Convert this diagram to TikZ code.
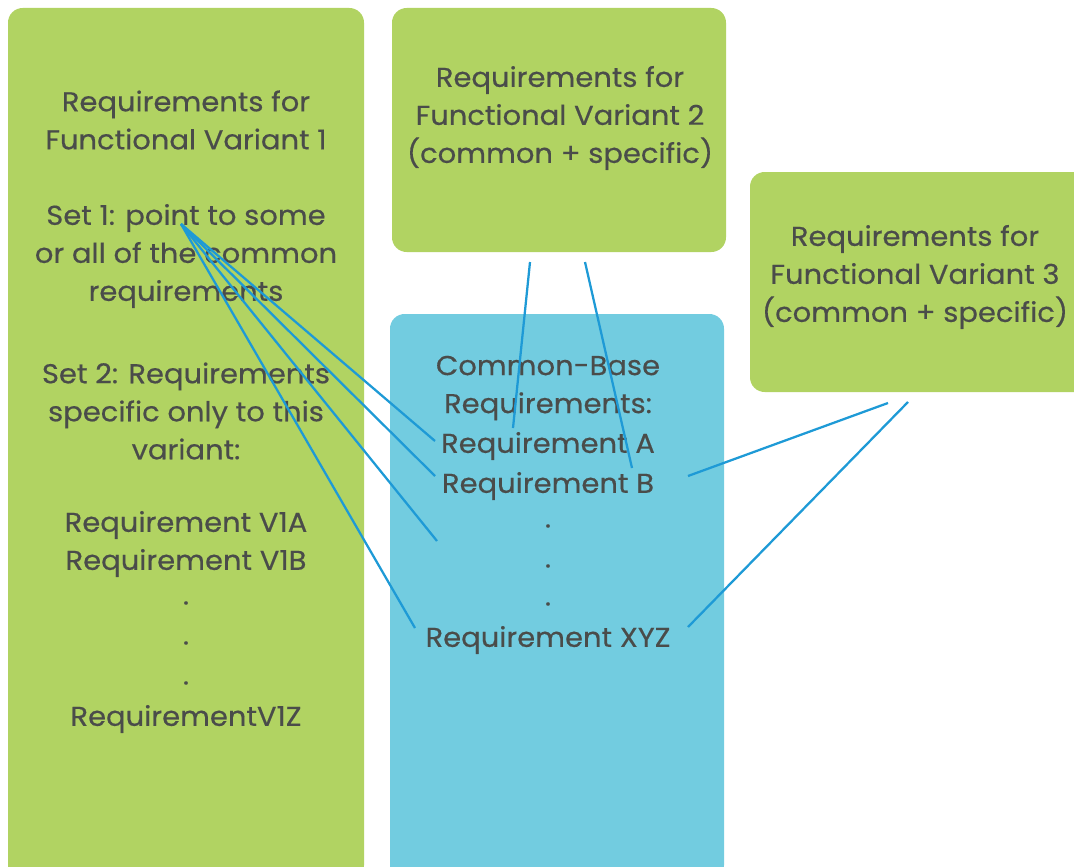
\documentclass[tikz,border=0pt]{standalone}
\usepackage{fontspec}
\setmainfont{Poppins}[FakeBold=0.4,FakeStretch=1.06]
\definecolor{boxgreen}{HTML}{B1D362}
\definecolor{boxblue}{HTML}{72CCE0}
\definecolor{linkblue}{HTML}{1E9AD6}
\definecolor{txt}{HTML}{4A4C4A}
\begin{document}
\begin{tikzpicture}[x=0.75pt,y=-0.75pt,
  panel/.style={rounded corners=11pt},
  lbl/.style={text=txt,font=\fontsize{20.5}{28.5}\selectfont,align=center,inner sep=0pt},
  link/.style={draw=linkblue,line width=1.7pt}]
\useasboundingbox (0,0) rectangle (1074,867);
\begin{scope}
\clip (0,0) rectangle (1074,867);
\fill[boxgreen,panel] (8,8) rectangle (364,880);
\fill[boxgreen,panel] (392,8) rectangle (726,252);
\fill[boxgreen,panel] (750,172) rectangle (1090,392);
\fill[boxblue,panel] (390,314) rectangle (724,880);
\end{scope}
% left panel
\node[lbl] (v1title) at (186,120) {Requirements for\\Functional Variant 1};
\node[lbl] (set1) at (186,256) {Set 1: point to some\\or all of the common\\requirements};
\node[lbl] (set2) at (186,411) {Set 2: Requirements\\specific only to this\\variant:};
\node[lbl] (v1ab) at (186,544) {Requirement V1A\\Requirement V1B};
\node[lbl] (v1d1) at (186,603) {.};
\node[lbl] (v1d2) at (186,643) {.};
\node[lbl] (v1d3) at (186,683) {.};
\node[lbl] (v1z) at (186,719) {RequirementV1Z};
% top middle
\node[lbl] (v2title) at (560,118) {Requirements for\\Functional Variant 2\\(common + specific)};
% right
\node[lbl] (v3title) at (915,277) {Requirements for\\Functional Variant 3\\(common + specific)};
% blue
\node[lbl] (cbtitle) at (548,388) {Common-Base\\Requirements:};
\node[lbl] (reqA) at (548,446) {Requirement A};
\node[lbl] (reqB) at (548,486) {Requirement B};
\node[lbl] (cbd1) at (548,526) {.};
\node[lbl] (cbd2) at (548,566) {.};
\node[lbl] (cbd3) at (548,604) {.};
\node[lbl] (reqXYZ) at (548,640) {Requirement XYZ};
% link endpoints
\coordinate (s1) at (181,224);
\coordinate (eA) at (435,441);
\coordinate (eB) at (435,476);
\coordinate (eDots) at (437,541);
\coordinate (eXYZ) at (415,628);
\coordinate (t2a) at (530,262);
\coordinate (e2a) at (513,428);
\coordinate (t2b) at (585,262);
\coordinate (e2b) at (632,468);
\coordinate (t3a) at (888,403);
\coordinate (e3a) at (688,476);
\coordinate (t3b) at (908,402);
\coordinate (e3b) at (688,627);
\draw[link] (s1) -- (eA);
\draw[link] (s1) -- (eB);
\draw[link] (s1) -- (eDots);
\draw[link] (s1) -- (eXYZ);
\draw[link] (t2a) -- (e2a);
\draw[link] (t2b) -- (e2b);
\draw[link] (t3a) -- (e3a);
\draw[link] (t3b) -- (e3b);
\end{tikzpicture}
\end{document}
